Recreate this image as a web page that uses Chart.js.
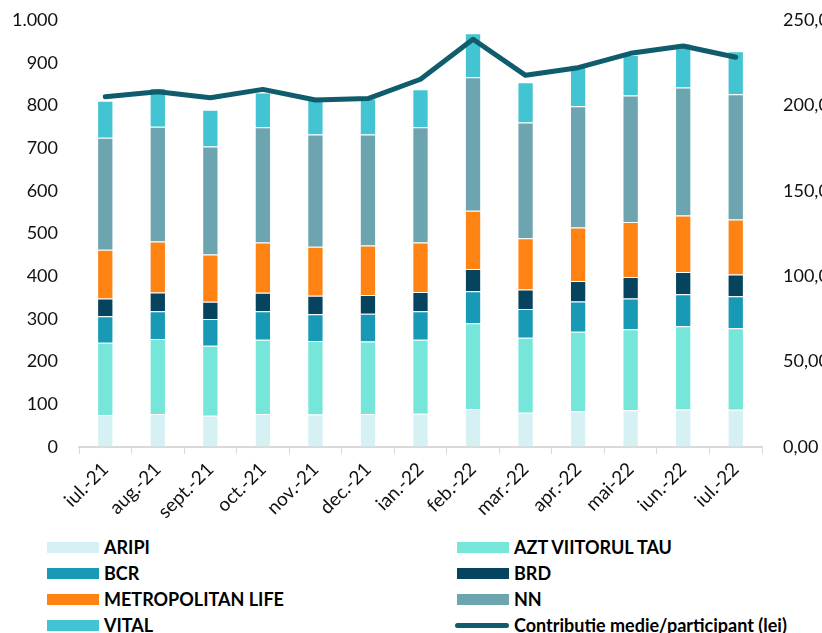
<!DOCTYPE html>
<html>
<head>
<meta charset="utf-8">
<script src="https://cdn.jsdelivr.net/npm/chart.js@4/dist/chart.umd.min.js"></script>
<style>
  body { margin: 0; width: 822px; height: 633px; overflow: hidden; background: #fff; position: relative; font-family: Lato, sans-serif; }
  #wrap { position: absolute; left: 0; top: 0; width: 860px; height: 530px; }
  .leg { position: absolute; height: 26px; display: flex; align-items: center; font-weight: bold; font-size: 18px; color: #000; white-space: nowrap; }
  .leg .box { width: 52px; height: 11px; margin-right: 5px; }
  .leg .ln { width: 54px; height: 5px; border-radius: 3px; margin-right: 5px; }
</style>
</head>
<body>
<div id="wrap"><canvas id="myChart" width="860" height="530"></canvas></div>
<div id="legend"></div>
<script>
const months = ['iul.-21', 'aug.-21', 'sept.-21', 'oct.-21', 'nov.-21', 'dec.-21', 'ian.-22', 'feb.-22', 'mar.-22', 'apr.-22', 'mai-22', 'iun.-22', 'iul.-22'];

const aripi = [75, 77, 73, 77, 76, 77, 78, 89, 80, 84, 86, 88, 87];
const azt = [169, 176, 164, 174, 172, 170, 173, 201, 176, 186, 190, 195, 191];
const bcr = [62, 65, 63, 67, 63, 65, 67, 75, 67, 71, 72, 75, 75];
const brd = [42, 44, 40, 43, 43, 44, 45, 52, 46, 48, 50, 52, 51];
const metropolitan = [114, 119, 111, 118, 115, 116, 116, 136, 120, 125, 129, 132, 129];
const nn = [262, 269, 253, 270, 263, 260, 270, 313, 271, 284, 296, 300, 293];
const vital = [87, 91, 86, 81, 88, 84, 89, 103, 94, 97, 95, 103, 101];

// contributie medie / participant (lei), right axis
const contributie = [205.1, 208.0, 204.5, 209.4, 203.2, 204.0, 215.3, 238.7, 217.6, 222.1, 230.5, 234.8, 228.2];

const leftTicks = { min: 0, max: 1000, step: 100 };
const rightTicks = { min: 0, max: 250, step: 50 };

const barSeries = [
  { label: 'ARIPI', data: aripi, color: '#d5f1f3' },
  { label: 'AZT VIITORUL TAU', data: azt, color: '#75e6d9' },
  { label: 'BCR', data: bcr, color: '#1899b5' },
  { label: 'BRD', data: brd, color: '#06435e' },
  { label: 'METROPOLITAN LIFE', data: metropolitan, color: '#ff8313' },
  { label: 'NN', data: nn, color: '#6ca4b0' },
  { label: 'VITAL', data: vital, color: '#43c4d2' }
];
const lineColor = '#0f5c6c';
const lineLabel = 'Contributie medie/participant (lei)';

Chart.defaults.font.family = 'Lato, sans-serif';
Chart.defaults.font.size = 18;
Chart.defaults.color = '#111';

const datasets = barSeries.map(s => ({
  type: 'bar',
  label: s.label,
  data: s.data,
  backgroundColor: s.color,
  borderColor: 'rgba(255,255,255,0.55)',
  borderWidth: 1,
  yAxisID: 'y',
  stack: 'fonduri',
  order: 1,
  categoryPercentage: 1,
  barPercentage: 0.31
}));

datasets.push({
  type: 'line',
  label: lineLabel,
  data: contributie,
  borderColor: lineColor,
  backgroundColor: lineColor,
  borderWidth: 5,
  pointRadius: 0,
  tension: 0,
  borderCapStyle: 'round',
  borderJoinStyle: 'round',
  yAxisID: 'y1',
  order: 0
});

// invisible tick marks give the gap between the value labels and the plot
// (ticks.padding would also push the plot area down)
const hiddenTicks = { display: true, drawOnChartArea: false, drawTicks: true, tickLength: 21, color: 'rgba(0,0,0,0)' };

const ctx = document.getElementById('myChart').getContext('2d');
const chart = new Chart(ctx, {
  data: { labels: months, datasets: datasets },
  options: {
    responsive: false,
    animation: false,
    layout: { padding: { top: 20, left: 0, right: 0, bottom: 0 } },
    plugins: { legend: { display: false }, tooltip: { enabled: false } },
    scales: {
      x: {
        stacked: true,
        offset: true,
        grid: { display: true, drawOnChartArea: false, drawTicks: true, tickLength: 7, color: '#d9d9d9', offset: true },
        border: { display: true, color: '#d9d9d9', width: 2 },
        ticks: { minRotation: 45, maxRotation: 45, padding: 4, autoSkip: false, font: { size: 19 } },
        afterFit: scale => { scale.height = 83; }
      },
      y: {
        position: 'left',
        stacked: true,
        min: leftTicks.min,
        max: leftTicks.max,
        grid: hiddenTicks,
        border: { display: false },
        ticks: {
          stepSize: leftTicks.step,
          padding: 0,
          callback: v => v >= 1000 ? Math.floor(v / 1000) + '.' + String(v % 1000).padStart(3, '0') : String(v)
        },
        afterFit: scale => { scale.width = 79; }
      },
      y1: {
        position: 'right',
        min: rightTicks.min,
        max: rightTicks.max,
        grid: hiddenTicks,
        border: { display: false },
        ticks: {
          stepSize: rightTicks.step,
          padding: 0,
          callback: v => v.toFixed(2).replace('.', ',')
        },
        afterFit: scale => { scale.width = 98; }
      }
    }
  }
});

// legend, two columns like the original
const legendDiv = document.getElementById('legend');
const legendItems = barSeries.map(s => ({ label: s.label, color: s.color, line: false }));
legendItems.push({ label: lineLabel, color: lineColor, line: true });
legendItems.forEach((item, i) => {
  const col = i % 2;
  const row = Math.floor(i / 2);
  const el = document.createElement('div');
  el.className = 'leg';
  el.style.left = (col === 0 ? 47 : (item.line ? 455 : 457)) + 'px';
  el.style.top = (534 + row * 26) + 'px';
  const mark = document.createElement('span');
  mark.className = item.line ? 'ln' : 'box';
  mark.style.background = item.color;
  const txt = document.createElement('span');
  txt.textContent = item.label;
  el.appendChild(mark);
  el.appendChild(txt);
  legendDiv.appendChild(el);
});
</script>
</body>
</html>
